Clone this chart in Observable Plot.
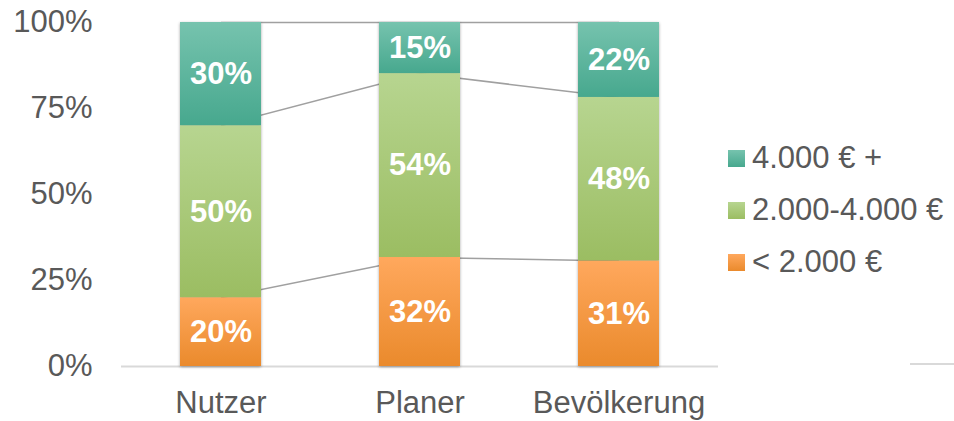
<!DOCTYPE html>
<html>
<head>
<meta charset="utf-8">
<script src="https://cdn.jsdelivr.net/npm/d3@7"></script>
<script src="https://cdn.jsdelivr.net/npm/@observablehq/plot@0.6"></script>
<style>
  html, body { margin: 0; padding: 0; background: #fff; }
  #wrap { position: relative; width: 954px; height: 421px; overflow: hidden; font-family: "Liberation Sans", Arial, sans-serif; }
  #legend { position: absolute; left: 728px; top: 132px; color: #595959; font-size: 31px; }
  .item { display: flex; align-items: center; height: 52px; white-space: nowrap; }
  .sw { width: 17px; height: 17px; margin-right: 7px; flex: none; }
  #stub { position: absolute; left: 910px; top: 363px; width: 44px; height: 2px; background: #d9d9d9; }
</style>
</head>
<body>
<div id="wrap"></div>
<script>
const categories = ["Nutzer", "Planer", "Bevölkerung"];
const series = ["< 2.000 €", "2.000-4.000 €", "4.000 € +"];
const low = [20, 32, 31];
const mid = [50, 54, 48];
const high = [30, 15, 22];
const yTicks = [0, 0.25, 0.5, 0.75, 1];

const gradients = [
  {id: "gOrange", top: "#FFA85D", bottom: "#EA8A2C"},
  {id: "gGreen", top: "#B7D590", bottom: "#9BBD62"},
  {id: "gTeal", top: "#76C3AE", bottom: "#47A88E"}
];

const seriesValues = [low, mid, high];
const data = [];
seriesValues.forEach((vals, s) => {
  categories.forEach((c, i) => data.push({cat: c, series: series[s], value: vals[i]}));
});

// cumulative normalized tops for connector lines
const totals = categories.map((c, i) => low[i] + mid[i] + high[i]);
const links = [];
seriesValues.forEach((vals, s) => {
  for (let i = 0; i < categories.length - 1; i++) {
    const cumA = seriesValues.slice(0, s + 1).reduce((a, v) => a + v[i], 0) / totals[i];
    const cumB = seriesValues.slice(0, s + 1).reduce((a, v) => a + v[i + 1], 0) / totals[i + 1];
    links.push({a: categories[i], b: categories[i + 1], ya: cumA, yb: cumB});
  }
});

const plot = Plot.plot({
  width: 954,
  height: 421,
  marginLeft: 121,
  marginRight: 236,
  marginTop: 22,
  marginBottom: 55,
  style: {fontFamily: "'Liberation Sans', Arial, sans-serif", fontSize: "31px", color: "#595959", background: "transparent"},
  x: {domain: categories, padding: 0, tickSize: 0, tickPadding: 24, label: null},
  y: {domain: [0, 1], ticks: yTicks, tickFormat: d3.format(".0%"), tickSize: 0, tickPadding: 29, label: null},
  color: {type: "ordinal", domain: series, range: gradients.map(g => `url(#${g.id})`)},
  marks: [
    Plot.ruleY([0], {stroke: "#d9d9d9", strokeWidth: 2}),
    Plot.link(links, {x1: "a", x2: "b", y1: "ya", y2: "yb", stroke: "#a0a0a0", strokeWidth: 1.5}),
    Plot.barY(data, Plot.stackY({x: "cat", y: "value", z: "series", fill: "series", offset: "normalize", insetLeft: 59, insetRight: 59})),
    Plot.text(data, Plot.stackY({x: "cat", y: "value", z: "series", offset: "normalize", text: d => d.value + "%", fill: "white", fontWeight: "bold", fontSize: 31}))
  ]
});

const svg = d3.select(plot);
const defs = svg.insert("defs", ":first-child");
gradients.forEach(g => {
  const lg = defs.append("linearGradient").attr("id", g.id).attr("x1", 0).attr("y1", 0).attr("x2", 0).attr("y2", 1);
  lg.append("stop").attr("offset", "0%").attr("stop-color", g.top);
  lg.append("stop").attr("offset", "100%").attr("stop-color", g.bottom);
});
svg.selectAll('g[aria-label="bar"]').style("filter", "drop-shadow(0px 1px 1.5px rgba(0,0,0,0.35))");

const wrap = document.getElementById("wrap");
wrap.appendChild(plot);

const legend = document.createElement("div");
legend.id = "legend";
[2, 1, 0].forEach(s => {
  const item = document.createElement("div");
  item.className = "item";
  const sw = document.createElement("span");
  sw.className = "sw";
  sw.style.background = `linear-gradient(${gradients[s].top}, ${gradients[s].bottom})`;
  const label = document.createElement("span");
  label.textContent = series[s];
  item.appendChild(sw);
  item.appendChild(label);
  legend.appendChild(item);
});
wrap.appendChild(legend);

const stub = document.createElement("div");
stub.id = "stub";
wrap.appendChild(stub);
</script>
</body>
</html>
